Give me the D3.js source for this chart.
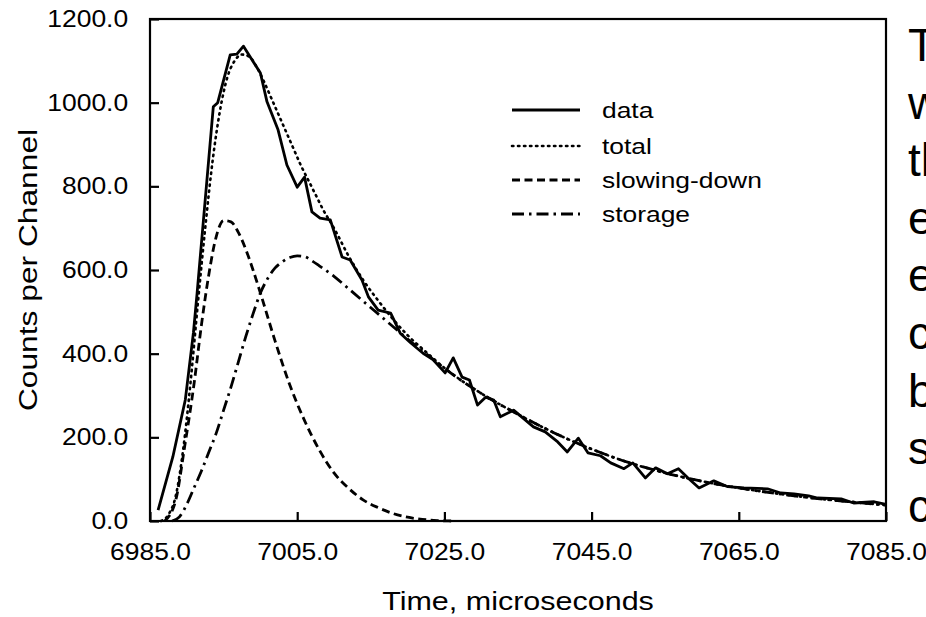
<!DOCTYPE html>
<html><head><meta charset="utf-8">
<script src="https://cdn.jsdelivr.net/npm/d3@7"></script>
<style>body{margin:0;background:#fff}svg{display:block}</style>
</head><body><svg id="c" width="926" height="617"></svg>
<script>
// ---- data ----
const xTicks = [6985, 7005, 7025, 7045, 7065, 7085];
const yTicks = [0, 200, 400, 600, 800, 1000, 1200];

const dataTime = [6986.1, 6988.1, 6989.8, 6990.9, 6991.4, 6993.6, 6994.2, 6995.9, 6996.8, 6997.7, 7000.0, 7000.9, 7002.4, 7003.6, 7005.0, 7006.0, 7007.0, 7008.1, 7009.5, 7011.1, 7012.2, 7013.8, 7014.7, 7016.0, 7017.7, 7019.0, 7020.4, 7022.1, 7023.5, 7025.1, 7026.2, 7027.4, 7028.4, 7029.5, 7030.6, 7031.7, 7032.6, 7034.4, 7037.1, 7038.7, 7040.4, 7041.7, 7043.2, 7044.5, 7046.2, 7047.6, 7049.4, 7050.6, 7052.3, 7053.7, 7055.3, 7056.8, 7058.1, 7059.6, 7061.6, 7063.5, 7065.7, 7068.9, 7070.7, 7072.5, 7074.5, 7075.7, 7078.9, 7080.6, 7083.4, 7085.0];
const dataCounts = [26, 153, 290, 450, 545, 990, 1000, 1114, 1116, 1135, 1071, 1002, 935, 851, 798, 822, 739, 724, 720, 631, 624, 576, 535, 504, 497, 449, 426, 401, 385, 354, 390, 344, 337, 277, 296, 289, 249, 265, 225, 213, 189, 165, 198, 163, 156, 139, 125, 139, 103, 127, 113, 125, 103, 79, 96, 82, 79, 77, 67, 65, 60, 55, 53, 43, 46, 40];

const totalTime = [6986.5, 6987.5, 6988.5, 6989.5, 6990.5, 6991.5, 6992.5, 6993.5, 6994.5, 6995.5, 6996.5, 6997.5, 6998.5, 6999.5, 7000.5, 7001.5, 7002.5, 7003.5, 7004.5, 7005.5, 7006.5, 7007.5, 7008.5, 7010, 7012, 7014, 7016, 7018, 7020, 7022.5, 7025, 7030, 7035, 7040, 7045, 7050, 7055, 7060, 7065, 7070, 7075, 7080, 7085];
const totalCounts = [0, 15, 60, 170, 330, 520, 700, 860, 980, 1060, 1100, 1115, 1110, 1085, 1050, 1010, 970, 930, 890, 850, 815, 780, 745, 700, 633, 575, 527, 483, 444, 404, 366, 305, 255, 210, 172, 140, 115, 95, 79, 66, 55, 46, 38];

const slowTime = [6987, 6988.5, 6989.7, 6991, 6992, 6993, 6994, 6995, 6996, 6997, 6998, 6999, 7000, 7002, 7004, 7006, 7008, 7010, 7012, 7014, 7016, 7018, 7020, 7022, 7024, 7026];
const slowCounts = [0, 50, 177, 330, 470, 590, 680, 718, 715, 690, 650, 600, 545, 430, 325, 240, 170, 115, 78, 50, 32, 18, 9, 4, 1, 0];

const storeTime = [6988, 6989, 6990, 6991, 6992, 6993, 6994, 6995, 6996, 6997, 6998, 6999, 7000, 7001, 7002, 7003, 7004, 7005, 7006, 7007, 7008, 7010, 7012, 7014, 7016, 7018, 7020, 7022.5, 7025, 7030, 7035, 7040, 7045, 7050, 7055, 7060, 7065, 7070, 7075, 7080, 7085];
const storeCounts = [0, 10, 40, 80, 120, 165, 210, 265, 320, 380, 440, 495, 545, 580, 605, 620, 630, 634, 632, 622, 610, 585, 555, 525, 495, 465, 435, 400, 365, 305, 255, 210, 172, 140, 115, 95, 79, 66, 55, 46, 38];

const legendLabels = ["data", "total", "slowing-down", "storage"];
const sideText = ["T", "w", "th", "e", "e", "c", "b", "s", "c"];
const xTitle = "Time, microseconds";
const yTitle = "Counts per Channel";

// ---- layout ----
const L = 150, R = 886, T = 19, B = 521;
const FONT = "'Liberation Sans', Arial, Helvetica, sans-serif";
const svg = d3.select("#c");
const x = d3.scaleLinear().domain([6985, 7085]).range([L, R]);
const y = d3.scaleLinear().domain([0, 1200]).range([B, T]);

const styles = {
  data:  {w: 2.8, dash: null, cap: "butt"},
  total: {w: 2.6, dash: "1.4,4.6", cap: "round"},
  slow:  {w: 2.8, dash: "8,4.5", cap: "butt"},
  store: {w: 2.8, dash: "12,5,2.5,5", cap: "butt"}
};

function series(ts, vs) { return ts.map((t, i) => [t, vs[i]]); }
const lin = d3.line().x(d => x(d[0])).y(d => y(d[1]));
const smooth = d3.line().x(d => x(d[0])).y(d => y(d[1])).curve(d3.curveMonotoneX);

const g = svg.append("g");
function drawPath(gen, pts, st) {
  g.append("path").attr("d", gen(pts)).attr("fill", "none").attr("stroke", "#000")
    .attr("stroke-width", st.w).attr("stroke-dasharray", st.dash)
    .attr("stroke-linejoin", "round").attr("stroke-linecap", st.cap);
}
drawPath(smooth, series(slowTime, slowCounts), styles.slow);
drawPath(smooth, series(storeTime, storeCounts), styles.store);
drawPath(smooth, series(totalTime, totalCounts), styles.total);
drawPath(lin, series(dataTime, dataCounts), styles.data);

// frame
svg.append("rect").attr("x", L).attr("y", T).attr("width", R - L).attr("height", B - T)
  .attr("fill", "none").attr("stroke", "#000").attr("stroke-width", 2.2);

// axes
const ax = svg.append("g").attr("transform", `translate(0,${B})`)
  .call(d3.axisBottom(x).tickValues(xTicks).tickSize(-9).tickPadding(23).tickFormat(d3.format(".1f")));
const ay = svg.append("g").attr("transform", `translate(${L},0)`)
  .call(d3.axisLeft(y).tickValues(yTicks).tickSize(-9).tickPadding(19).tickFormat(d3.format(".1f")));
[ax, ay].forEach(a => {
  a.select(".domain").remove();
  a.selectAll(".tick line").attr("stroke", "#000").attr("stroke-width", 2.2);
  a.selectAll(".tick text").attr("fill", "#000").style("font-family", FONT).style("font-size", "23px");
});
ax.selectAll(".tick text").attr("transform", "scale(1.15,1)").attr("x", 0);
ay.selectAll(".tick text").attr("transform", "scale(1.15,1)");

// titles
svg.append("text").attr("transform", `translate(${(L + R) / 2},610) scale(1.22,1)`)
  .attr("text-anchor", "middle").style("font-family", FONT).style("font-size", "25px").text(xTitle);
svg.append("text").attr("transform", `translate(37,${(T + B) / 2}) rotate(-90) scale(1.38,1.1)`)
  .attr("text-anchor", "middle").style("font-family", FONT).style("font-size", "23px").text(yTitle);

// legend
const legY = [110, 146, 180, 214];
const legStyles = [styles.data, styles.total, styles.slow, styles.store];
legendLabels.forEach((lab, i) => {
  const st = legStyles[i];
  svg.append("line").attr("x1", 512).attr("x2", 580).attr("y1", legY[i]).attr("y2", legY[i])
    .attr("stroke", "#000").attr("stroke-width", st.w).attr("stroke-dasharray", st.dash)
    .attr("stroke-linecap", st.cap);
  svg.append("text").attr("transform", `translate(602,${legY[i] + 8}) scale(1.2,1)`)
    .style("font-family", FONT).style("font-size", "22px").text(lab);
});

// cut-off slide text on the right (it runs past the picture edge in the original)
sideText.forEach((s, i) => {
  svg.append("text").attr("x", 908).attr("y", 61 + i * 57.6)
    .style("font-family", FONT).style("font-size", "46px").attr("fill", "#000").text(s);
});
</script>
</body></html>
